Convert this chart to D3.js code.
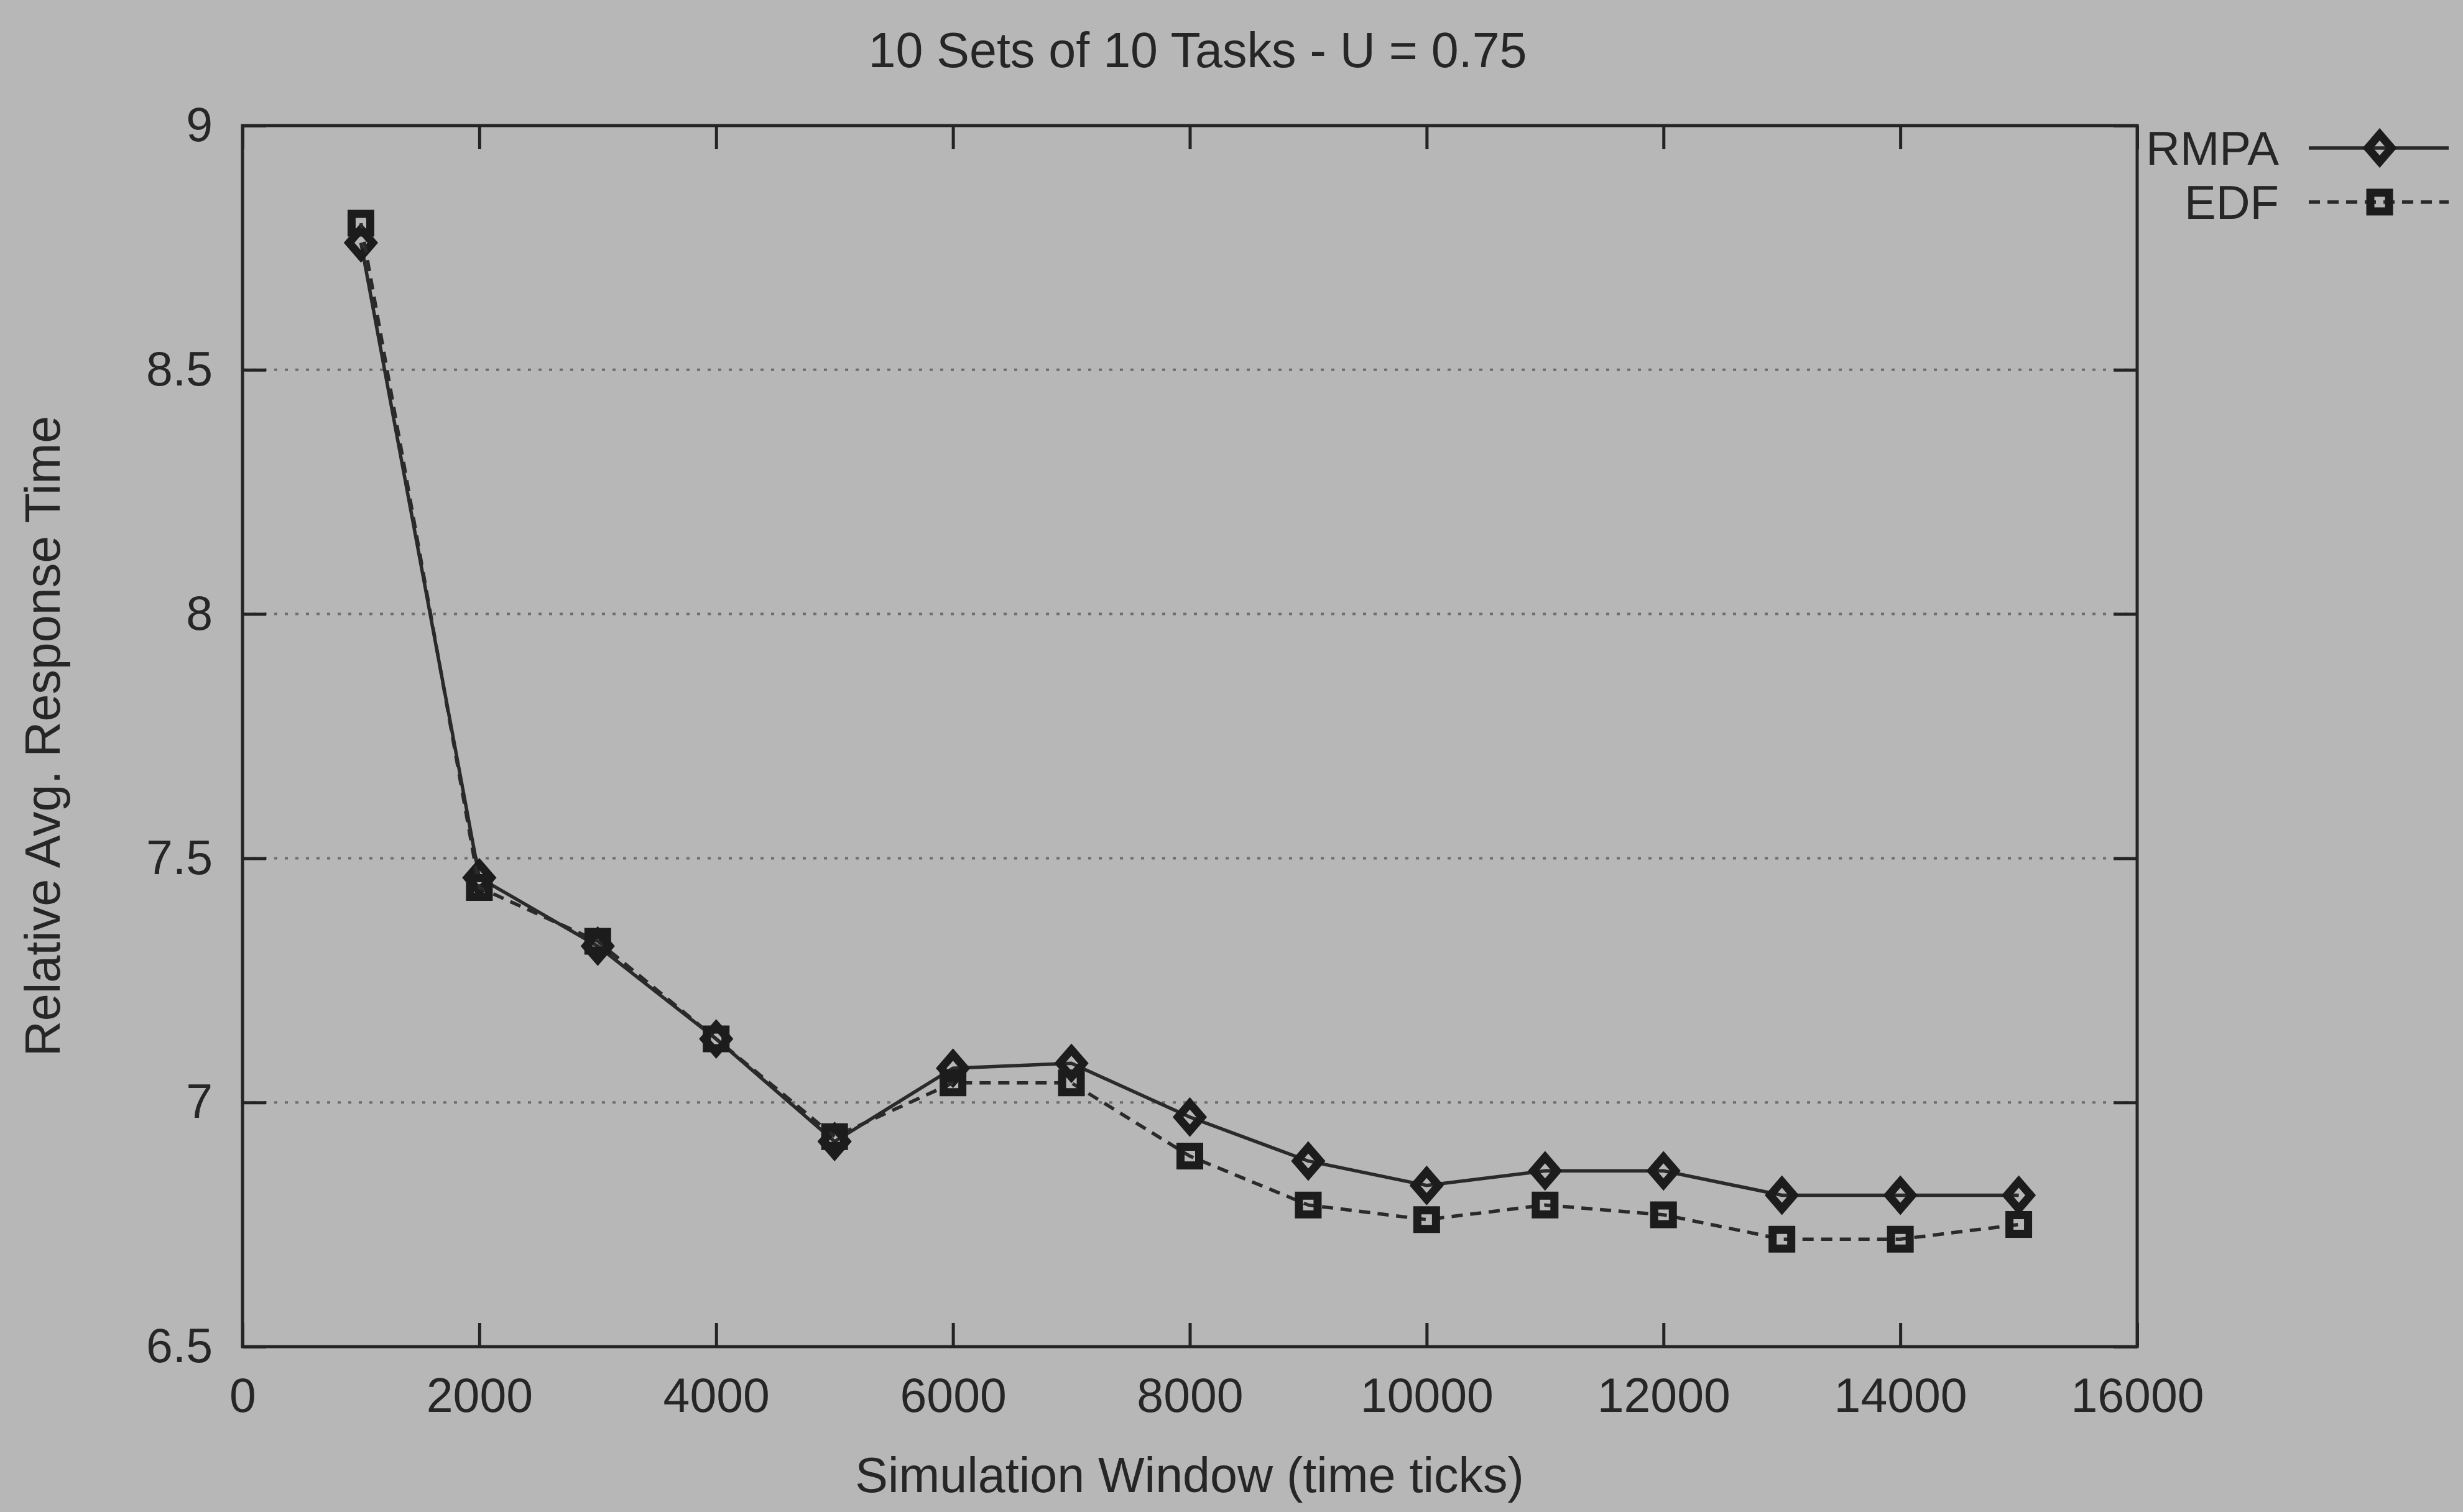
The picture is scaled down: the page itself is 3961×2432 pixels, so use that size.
<!DOCTYPE html>
<html>
<head>
<meta charset="utf-8">
<script src="https://cdn.jsdelivr.net/npm/d3@7"></script>
<style>
  html, body { margin: 0; padding: 0; background: #b7b7b7; }
  svg { display: block; }
  text { font-family: "Liberation Sans", Arial, Helvetica, sans-serif; fill: #262626; }
</style>
</head>
<body>
<svg id="chart" width="3961" height="2432"></svg>
<script>
// Simulation window sizes (time ticks)
const windows = [1000, 2000, 3000, 4000, 5000, 6000, 7000, 8000, 9000, 10000, 11000, 12000, 13000, 14000, 15000];
// Relative average response time per scheduler
const rmpa = [8.76, 7.46, 7.32, 7.13, 6.92, 7.07, 7.08, 6.97, 6.88, 6.83, 6.86, 6.86, 6.81, 6.81, 6.81];
const edf  = [8.80, 7.44, 7.33, 7.13, 6.93, 7.04, 7.04, 6.89, 6.79, 6.76, 6.79, 6.77, 6.72, 6.72, 6.75];
// Axis ticks
const xTicks = [0, 2000, 4000, 6000, 8000, 10000, 12000, 14000, 16000];
const yTicks = [6.5, 7, 7.5, 8, 8.5, 9];
const yTickLabels = ["6.5", "7", "7.5", "8", "8.5", "9"];
const gridValues = [7, 7.5, 8, 8.5];

const chartTitle = "10 Sets of 10 Tasks - U = 0.75";
const xTitle = "Simulation Window (time ticks)";
const yTitle = "Relative Avg. Response Time";

const W = 3961, H = 2432;
const plot = { left: 390, right: 3437, top: 202, bottom: 2166 };
const ink = "#242424";

const svg = d3.select("#chart");
svg.append("rect").attr("width", W).attr("height", H).attr("fill", "#b7b7b7");

const x = d3.scaleLinear().domain([0, 16000]).range([plot.left, plot.right]);
const y = d3.scaleLinear().domain([6.5, 9]).range([plot.bottom, plot.top]);

// dotted horizontal grid
svg.append("g").selectAll("line").data(gridValues).join("line")
  .attr("x1", plot.left).attr("x2", plot.right)
  .attr("y1", d => y(d)).attr("y2", d => y(d))
  .attr("stroke", "#6e6e6e").attr("stroke-width", 4)
  .attr("stroke-dasharray", "5,12");

const tickLen = 38;
const fontSize = 77;

function styleAxis(g) {
  g.select(".domain").remove();
  g.selectAll(".tick line").attr("stroke", ink).attr("stroke-width", 5);
  g.selectAll(".tick text").attr("font-size", fontSize).attr("fill", ink)
    .attr("font-family", "Liberation Sans, Arial, sans-serif");
}

// bottom axis, ticks pointing inward
svg.append("g").attr("transform", `translate(0,${plot.bottom})`)
  .call(d3.axisBottom(x).tickValues(xTicks).tickSize(-tickLen).tickPadding(50).tickFormat(d3.format("d")))
  .call(styleAxis);
// top mirror ticks
svg.append("g").attr("transform", `translate(0,${plot.top})`)
  .call(d3.axisTop(x).tickValues(xTicks).tickSize(-tickLen).tickFormat(""))
  .call(styleAxis);
// left axis
svg.append("g").attr("transform", `translate(${plot.left},0)`)
  .call(d3.axisLeft(y).tickValues(yTicks).tickSize(-tickLen).tickPadding(48)
    .tickFormat((d, i) => yTickLabels[i]))
  .call(styleAxis);
// right mirror ticks
svg.append("g").attr("transform", `translate(${plot.right},0)`)
  .call(d3.axisRight(y).tickValues(yTicks).tickSize(-tickLen).tickFormat(""))
  .call(styleAxis);

// plot border
svg.append("rect")
  .attr("x", plot.left).attr("y", plot.top)
  .attr("width", plot.right - plot.left).attr("height", plot.bottom - plot.top)
  .attr("fill", "none").attr("stroke", ink).attr("stroke-width", 5);

// series
const series = [
  { name: "RMPA", values: rmpa, dash: null, marker: "diamond" },
  { name: "EDF", values: edf, dash: "18,12", marker: "square" }
];

const line = d3.line().x(d => x(d[0])).y(d => y(d[1]));

const diamondPath = "M0,-22 L19,0 L0,22 L-19,0 Z";
const squarePath = "M-15,-15 L15,-15 L15,15 L-15,15 Z";

function drawMarker(g, type, cx, cy) {
  g.append("path")
    .attr("d", type === "diamond" ? diamondPath : squarePath)
    .attr("transform", `translate(${cx},${cy})`)
    .attr("fill", "none").attr("stroke", "#1c1c1c")
    .attr("stroke-width", 13)
    .attr("stroke-linejoin", "miter");
}

series.forEach(s => {
  const pts = windows.map((w, i) => [w, s.values[i]]);
  const g = svg.append("g");
  g.append("path").datum(pts).attr("d", line)
    .attr("fill", "none").attr("stroke", "#2a2a2a").attr("stroke-width", 5.5)
    .attr("stroke-dasharray", s.dash);
  pts.forEach(p => drawMarker(g, s.marker, x(p[0]), y(p[1])));
});

// legend
const legend = svg.append("g");
const legendRows = [{ s: series[0], y: 238 }, { s: series[1], y: 325 }];
legendRows.forEach(r => {
  legend.append("text").attr("x", 3665).attr("y", r.y + 27)
    .attr("text-anchor", "end").attr("font-size", 76).text(r.s.name);
  legend.append("line").attr("x1", 3713).attr("x2", 3938)
    .attr("y1", r.y).attr("y2", r.y)
    .attr("stroke", "#2a2a2a").attr("stroke-width", 5.5)
    .attr("stroke-dasharray", r.s.dash);
  drawMarker(legend, r.s.marker, 3827, r.y);
});

// titles
svg.append("text").attr("x", 1926).attr("y", 108).attr("text-anchor", "middle")
  .attr("font-size", 79).text(chartTitle);
svg.append("text").attr("x", 1913).attr("y", 2400).attr("text-anchor", "middle")
  .attr("font-size", 79).text(xTitle);
svg.append("text").attr("transform", `translate(96,${(plot.top + plot.bottom) / 2}) rotate(-90)`)
  .attr("text-anchor", "middle").attr("font-size", 79).text(yTitle);
</script>
</body>
</html>
